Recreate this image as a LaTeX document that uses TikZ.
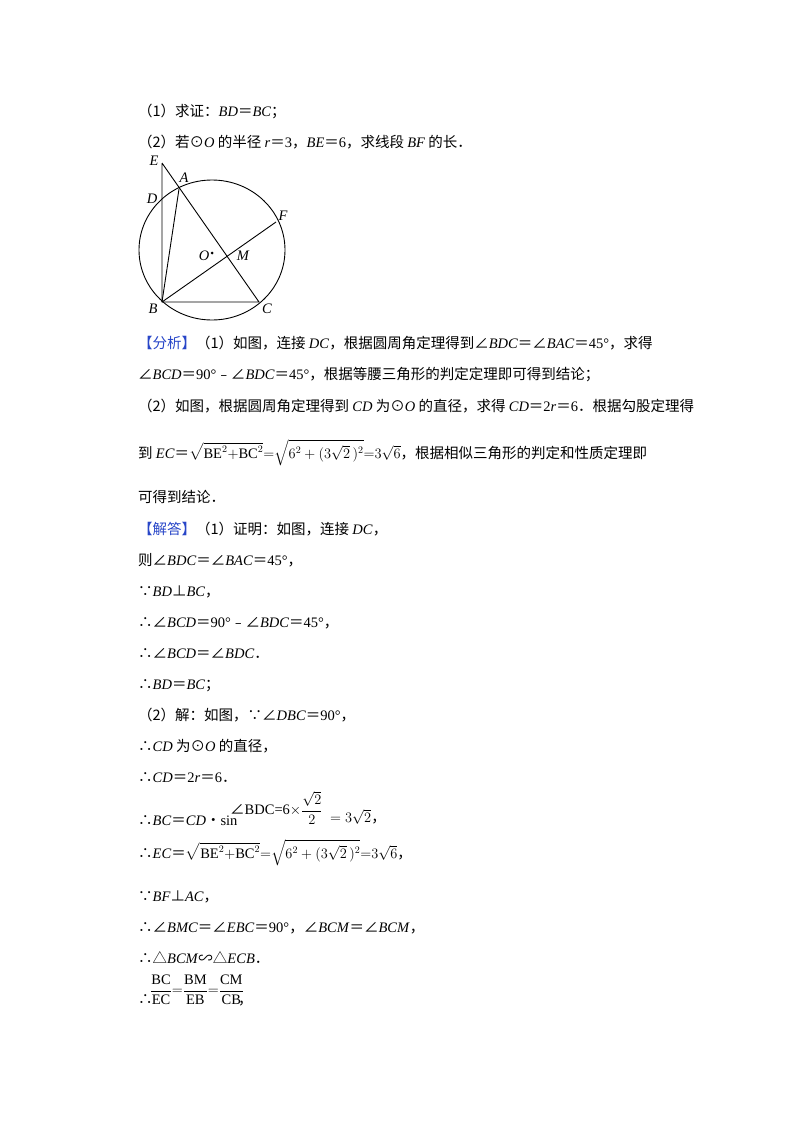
\documentclass[tikz,border=0pt]{standalone}
\usepackage{amsmath}
\usepackage{fontspec}
\setmainfont{Liberation Serif}
\newfontfamily\cjk{Noto Sans CJK SC}
\newcommand\zh[1]{{\cjk #1}}
\newcommand\I[1]{\textit{#1}}
\definecolor{anablue}{RGB}{40,70,200}
\begin{document}
\begin{tikzpicture}[x=1pt,y=-1pt,
  txt/.style={anchor=base west,inner sep=0pt,font=\fontsize{14.5}{17}\selectfont},
  lbl/.style={inner sep=0pt,font=\fontsize{14.5}{16}\selectfont\itshape},
  geo/.style={line width=0.9pt}]
\useasboundingbox[fill=white] (0,0) rectangle (800,1132);
% figure
\coordinate (Oc) at (212,250);
\draw[geo] (Oc) ellipse (73 and 70);
\coordinate (B) at (162,302);
\coordinate (C) at (259,302);
\coordinate (E) at (162,163);
\coordinate (D) at (162,198);
\coordinate (A) at (179,189);
\coordinate (F) at (276,222);
\coordinate (M) at (226.5,255);
\draw[geo] (E) -- (B) -- (C) -- (E);
\draw[geo] (B) -- (A);
\draw[geo] (B) -- (F);
\fill (212,253) circle (1.5);
\node[lbl] (lE) at (154,161) {E};
\node[lbl] (lA) at (184,178) {A};
\node[lbl] (lD) at (152,199) {D};
\node[lbl] (lF) at (283,216) {F};
\node[lbl] (lO) at (204,256) {O};
\node[lbl] (lM) at (243,256) {M};
\node[lbl] (lB) at (153,309) {B};
\node[lbl] (lC) at (267,309) {C};
% text
\node[txt] (t1) at (138,116) {\zh{（1）求证：}\I{BD}\zh{＝}\I{BC}\zh{；}};
\node[txt] (t2) at (138,147) {\zh{（2）若⊙}\I{O}\zh{ 的半径 }\I{r}\zh{＝}3\zh{，}\I{BE}\zh{＝}6\zh{，求线段 }\I{BF}\zh{ 的长．}};
\node[txt] (t3) at (138,348) {\zh{\textcolor{anablue}{【分析】}（1）如图，连接 }\I{DC}\zh{，根据圆周角定理得到∠}\I{BDC}\zh{＝∠}\I{BAC}\zh{＝}45°\zh{，求得}};
\node[txt] (t4) at (138,379) {\zh{∠}\I{BCD}\zh{＝}90°\zh{﹣∠}\I{BDC}\zh{＝}45°\zh{，根据等腰三角形的判定定理即可得到结论；}};
\node[txt] (t5) at (138,411) {\zh{（2）如图，根据圆周角定理得到 }\I{CD}\zh{ 为⊙}\I{O}\zh{ 的直径，求得 }\I{CD}\zh{＝}2\I{r}\zh{＝}6\zh{．根据勾股定理得}};
\node[txt] (t6) at (138,458) {\zh{到 }\I{EC}\zh{＝}$\sqrt{\mathrm{BE}^{2}\mathord{+}\mathrm{BC}^{2}}{=}\sqrt{6^{2}+(3\sqrt{2}\,)^{2}}{=}3\sqrt{6}$\zh{，根据相似三角形的判定和性质定理即}};
\node[txt] (t7) at (138,502) {\zh{可得到结论．}};
\node[txt] (t8) at (138,534) {\zh{\textcolor{anablue}{【解答】}（1）证明：如图，连接 }\I{DC}\zh{，}};
\node[txt] (t9) at (138,565) {\zh{则∠}\I{BDC}\zh{＝∠}\I{BAC}\zh{＝}45°\zh{，}};
\node[txt] (t10) at (138,596) {\zh{∵}\I{BD}\zh{⊥}\I{BC}\zh{，}};
\node[txt] (t11) at (138,627) {\zh{∴∠}\I{BCD}\zh{＝}90°\zh{﹣∠}\I{BDC}\zh{＝}45°\zh{，}};
\node[txt] (t12) at (138,658) {\zh{∴∠}\I{BCD}\zh{＝∠}\I{BDC}\zh{．}};
\node[txt] (t13) at (138,689) {\zh{∴}\I{BD}\zh{＝}\I{BC}\zh{；}};
\node[txt] (t14) at (138,720) {\zh{（2）解：如图，∵∠}\I{DBC}\zh{＝}90°\zh{，}};
\node[txt] (t15) at (138,751) {\zh{∴}\I{CD}\zh{ 为⊙}\I{O}\zh{ 的直径，}};
\node[txt] (t16) at (138,782) {\zh{∴}\I{CD}\zh{＝}2\I{r}\zh{＝}6\zh{．}};
\node[txt] (t17) at (138,825) {\zh{∴}\I{BC}\zh{＝}\I{CD}\zh{•}sin};
\node[txt,anchor=west] (t17b) at (230,808) {\zh{∠}BDC=6$\times\dfrac{\sqrt{2}}{2}$};
\node[txt] (t17c) at (330,822) {$=3\sqrt{2}$\zh{，}};
\node[txt] (t18) at (138,858) {\zh{∴}\I{EC}\zh{＝}$\sqrt{\mathrm{BE}^{2}\mathord{+}\mathrm{BC}^{2}}{=}\sqrt{6^{2}+(3\sqrt{2}\,)^{2}}{=}3\sqrt{6}$\zh{，}};
\node[txt] (t19) at (138,901) {\zh{∵}\I{BF}\zh{⊥}\I{AC}\zh{，}};
\node[txt] (t20) at (138,932) {\zh{∴∠}\I{BMC}\zh{＝∠}\I{EBC}\zh{＝}90°\zh{，∠}\I{BCM}\zh{＝∠}\I{BCM}\zh{，}};
\node[txt] (t21) at (138,963) {\zh{∴△}\I{BCM}\zh{∽△}\I{ECB}\zh{．}};
\node[txt] (t22) at (138,1004) {\zh{∴}};
\node[txt,anchor=west] (t22b) at (150,990) {$\dfrac{\mathrm{BC}}{\mathrm{EC}}{=}\dfrac{\mathrm{BM}}{\mathrm{EB}}{=}\dfrac{\mathrm{CM}}{\mathrm{CB}}$};
\node[txt] (t22c) at (238,1004) {\zh{，}};
\end{tikzpicture}
\end{document}
